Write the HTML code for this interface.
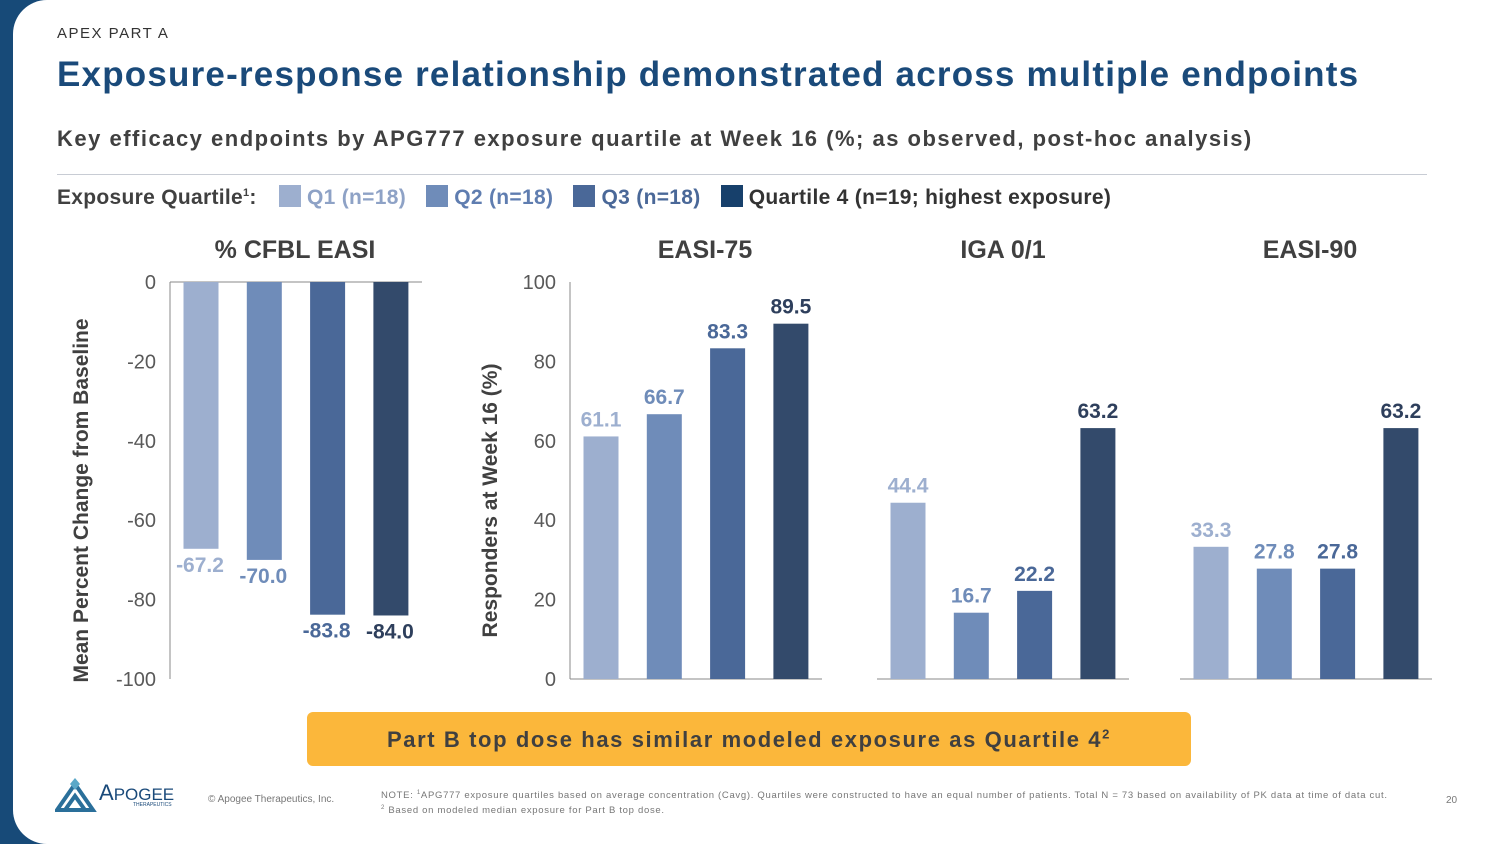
<!DOCTYPE html>
<html><head><meta charset="utf-8">
<style>
body{margin:0;width:1500px;height:844px;overflow:hidden;background:#174a78;font-family:"Liberation Sans",sans-serif;}
#panel{position:absolute;left:13px;top:0;width:1487px;height:844px;background:#fff;border-radius:34px 0 0 34px;}
.t{position:absolute;white-space:nowrap;}
</style></head><body>
<div id="panel"></div>
<div class="t" style="left:57px;top:25px;font-size:15px;letter-spacing:1.5px;color:#333;">APEX PART A</div>
<div class="t" style="left:57px;top:55px;font-size:35px;letter-spacing:1.2px;font-weight:bold;color:#1a4a7a;">Exposure-response relationship demonstrated across multiple endpoints</div>
<div class="t" style="left:57px;top:126px;font-size:22px;letter-spacing:1.5px;font-weight:bold;color:#404040;">Key efficacy endpoints by APG777 exposure quartile at Week 16 (%; as observed, post-hoc analysis)</div>
<div style="position:absolute;left:57px;top:174px;width:1370px;height:1px;background:#c8ccd4;"></div>
<div class="t" style="left:57px;top:185px;font-size:21px;font-weight:bold;color:#404040;letter-spacing:0.3px;">
<span>Exposure Quartile<sup style="font-size:11px">1</sup>:</span>
<span style="margin-left:16px;display:inline-block;width:22px;height:22px;background:#9dafcf;vertical-align:-3px"></span> <span style="color:#8ea2c6">Q1 (n=18)</span>
<span style="margin-left:14px;display:inline-block;width:22px;height:22px;background:#6f8cb9;vertical-align:-3px"></span> <span style="color:#5f7db0">Q2 (n=18)</span>
<span style="margin-left:14px;display:inline-block;width:22px;height:22px;background:#4a6898;vertical-align:-3px"></span> <span style="color:#4a6898">Q3 (n=18)</span>
<span style="margin-left:14px;display:inline-block;width:22px;height:22px;background:#17406b;vertical-align:-3px"></span> <span style="color:#333">Quartile 4 (n=19; highest exposure)</span>
</div>
<svg id="chart" width="1500" height="844" style="position:absolute;left:0;top:0"></svg>
<div class="t" style="left:307px;top:712px;width:884px;height:54px;background:#fbb73b;border-radius:6px;text-align:center;line-height:56px;font-size:22px;letter-spacing:1.6px;font-weight:bold;color:#404040;">Part B top dose has similar modeled exposure as Quartile 4<sup style="font-size:13px;line-height:0">2</sup></div>
<div style="position:absolute;left:55px;top:778px;">
<svg width="44" height="34"><path d="M2 32 L20 6 L38 32 Z M10 32 L20 18 L30 32" fill="none" stroke="#2a6f9a" stroke-width="4"/><path d="M20 0 L25 6 L20 12 L15 6Z" fill="#5aa8c8"/></svg>
<span class="t" style="left:44px;top:2px;font-size:22px;color:#1a4a7a;">A<span style="font-size:17px">POGEE</span></span>
<span class="t" style="left:78px;top:24px;font-size:5px;color:#1a4a7a;">THERAPEUTICS</span></div>
<div class="t" style="left:208px;top:794px;font-size:10px;color:#777;">© Apogee Therapeutics, Inc.</div>
<div class="t" style="left:381px;top:787px;font-size:9.5px;letter-spacing:0.7px;color:#777;line-height:13px;">NOTE: <sup style="font-size:6px">1</sup>APG777 exposure quartiles based on average concentration (Cavg). Quartiles were constructed to have an equal number of patients. Total N = 73 based on availability of PK data at time of data cut.<br><sup style="font-size:6px">2</sup> Based on modeled median exposure for Part B top dose.</div>
<div class="t" style="left:1446px;top:795px;font-size:10px;color:#777;">20</div>
<script>
const panels=["% CFBL EASI","EASI-75","IGA 0/1","EASI-90"];
const cfblValues=[-67.2,-70.0,-83.8,-84.0];
const easi75Values=[61.1,66.7,83.3,89.5];
const iga01Values=[44.4,16.7,22.2,63.2];
const easi90Values=[33.3,27.8,27.8,63.2];
const leftTicks=["0","-20","-40","-60","-80","-100"];
const rightTicks=["100","80","60","40","20","0"];
const colors=["#9dafcf","#6f8cb9","#4a6898","#334a6b"];
const labelColors=["#9dafcf","#6f8cb9","#4a6898","#2e3f5c"];
const svg=document.getElementById('chart');const NS="http://www.w3.org/2000/svg";
function el(t,a,p){const e=document.createElementNS(NS,t);for(const k in a)e.setAttribute(k,a[k]);(p||svg).appendChild(e);return e;}
const Y0=282,Y1=679;
function yNeg(v){return Y0+(-v/100)*(Y1-Y0);}
function yPos(v){return Y1-(v/100)*(Y1-Y0);}
const starts=[170,570,877,1180];
const titleX=[295,705,1003,1310];
const series=[cfblValues,easi75Values,iga01Values,easi90Values];
panels.forEach((p,i)=>{
 const t=el('text',{x:titleX[i],y:258,'text-anchor':'middle','font-size':25,'font-weight':'bold',fill:'#404040'});t.textContent=p;
 
 
 const x0=starts[i];const neg=i===0;
 const base=neg?Y0:Y1;
 const ax=el('line',{x1:x0,x2:x0+252,y1:base,y2:base,stroke:'#888','stroke-width':1});
 
 
 series[i].forEach((v,j)=>{
  const cx=x0+31+j*63.3;const yv=neg?yNeg(v):yPos(v);
  const r=el('rect',{x:cx-17.5,y:Math.min(base,yv),width:35,height:Math.abs(yv-base),fill:colors[j]});
  
  
  const lt=el('text',{x:cx+(neg?-1:0),y:neg?yv+23:yv-10,'text-anchor':'middle','font-size':21,'font-weight':'bold',fill:labelColors[j]});
  lt.textContent=v.toFixed(1);
  
  
 });
});
function yAxis(x,ticks,title,tx){
 const l=el('line',{x1:x,x2:x,y1:Y0,y2:Y1,stroke:'#888'});
 
 
 ticks.forEach((s,k)=>{const t=el('text',{x:x-14,y:Y0+k*(Y1-Y0)/5+7,'text-anchor':'end','font-size':20,fill:'#595959'});t.textContent=s;
  
  });
 const tt=el('text',{x:0,y:0,transform:`translate(${tx},${(Y0+Y1)/2+20}) rotate(-90)`,'text-anchor':'middle','font-size':21,'font-weight':'bold',fill:'#404040'});tt.textContent=title;
 
 
}
yAxis(170,leftTicks,"Mean Percent Change from Baseline",88);
yAxis(570,rightTicks,"Responders at Week 16 (%)",497);
</script>
</body></html>
